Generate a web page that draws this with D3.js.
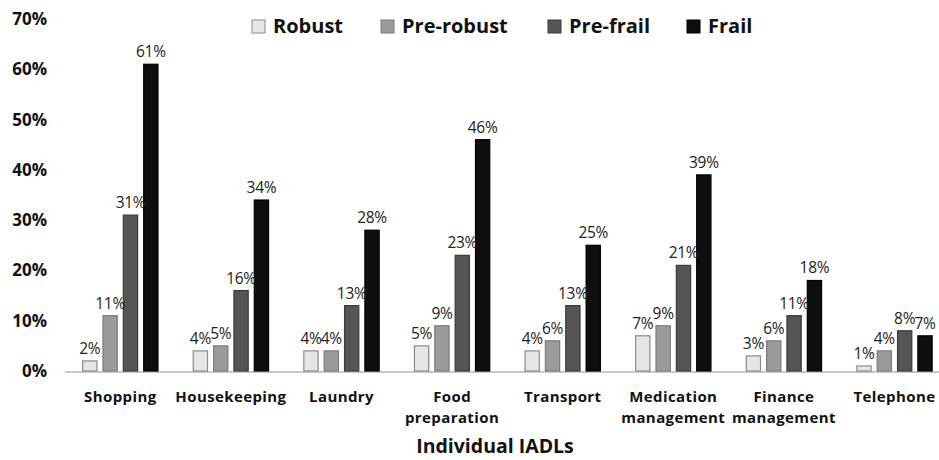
<!DOCTYPE html>
<html>
<head>
<meta charset="utf-8">
<script src="https://cdn.jsdelivr.net/npm/d3@7"></script>
<style>
  body { margin: 0; background: #fff; }
  svg { display: block; font-family: "Open Sans", "Liberation Sans", sans-serif; }
  .tick text { font-weight: bold; }
</style>
</head>
<body>
<svg id="chart" width="939" height="460"></svg>
<script>
const categories = [
  ['Shopping'], ['Housekeeping'], ['Laundry'], ['Food', 'preparation'],
  ['Transport'], ['Medication', 'management'], ['Finance', 'management'], ['Telephone']
];
const seriesNames = ['Robust', 'Pre-robust', 'Pre-frail', 'Frail'];
const robust = [2, 4, 4, 5, 4, 7, 3, 1];
const preRobust = [11, 5, 4, 9, 6, 9, 6, 4];
const preFrail = [31, 16, 13, 23, 13, 21, 11, 8];
const frail = [61, 34, 28, 46, 25, 39, 18, 7];
const yTicks = [0, 10, 20, 30, 40, 50, 60, 70];

const fills = ['#e6e6e6', '#9b9b9b', '#555555', '#0e0e0e'];
const strokes = ['#8a8a8a', '#7a7a7a', '#3a3a3a', '#000000'];

function drawChart(svgElement) {
  const svg = d3.select(svgElement);
  const seriesValues = [robust, preRobust, preFrail, frail];
  const keys = categories.map(c => c.join(' '));

  const x = d3.scaleBand()
    .domain(keys)
    .range([65, 65 + 8 * 110.6])
    .paddingInner(0.31)
    .paddingOuter(0.155);

  const xSub = d3.scaleBand()
    .domain(seriesNames)
    .range([0, x.bandwidth()])
    .paddingInner(0.25);

  const y = d3.scaleLinear().domain([0, 70]).range([371, 19]);

  // y axis labels only
  const yAxis = svg.append('g')
    .attr('transform', 'translate(47,0)')
    .call(d3.axisLeft(y).tickValues(yTicks).tickSize(0).tickPadding(0).tickFormat(d => d + '%'));
  yAxis.select('.domain').remove();
  yAxis.selectAll('text')
    .attr('font-size', 17)
    .attr('font-family', '"Open Sans", sans-serif')
    .attr('fill', '#111');

  // baseline
  svg.append('line')
    .attr('x1', 65).attr('x2', 939)
    .attr('y1', y(0) + 1).attr('y2', y(0) + 1)
    .attr('stroke', '#c8c8c8').attr('stroke-width', 2);

  const rows = keys.map((k, i) => ({ key: k, values: seriesValues.map((s, j) => ({ name: seriesNames[j], idx: j, v: s[i] })) }));

  const groups = svg.append('g').selectAll('g')
    .data(rows)
    .enter()
    .append('g')
    .attr('transform', d => 'translate(' + x(d.key) + ',0)');

  groups.selectAll('rect')
    .data(d => d.values)
    .enter()
    .append('rect')
    .attr('x', d => xSub(d.name) + 0.5)
    .attr('y', d => y(d.v))
    .attr('width', xSub.bandwidth() - 1)
    .attr('height', d => y(0) - y(d.v))
    .attr('fill', d => fills[d.idx])
    .attr('stroke', d => strokes[d.idx])
    .attr('stroke-width', 1.2);

  groups.selectAll('text.val')
    .data(d => d.values)
    .enter()
    .append('text')
    .attr('class', 'val')
    .attr('x', d => xSub(d.name) + xSub.bandwidth() / 2)
    .attr('y', d => y(d.v) - 7)
    .attr('text-anchor', 'middle')
    .attr('font-size', 15.5)
    .attr('letter-spacing', -0.3)
    .attr('fill', '#222')
    .text(d => d.v + '%');

  // category labels
  const catLabels = svg.append('g').selectAll('text')
    .data(categories)
    .enter()
    .append('text')
    .attr('x', (d, i) => x(keys[i]) + x.bandwidth() / 2)
    .attr('y', 402)
    .attr('text-anchor', 'middle')
    .attr('font-size', 15)
    .attr('letter-spacing', 0.4)
    .attr('font-weight', 'bold')
    .attr('fill', '#111');
  catLabels.selectAll('tspan')
    .data(d => d)
    .enter()
    .append('tspan')
    .attr('x', function() { return d3.select(this.parentNode).attr('x'); })
    .attr('dy', (d, i) => i === 0 ? 0 : 21)
    .text(d => d);

  svg.append('text')
    .attr('x', 495)
    .attr('y', 453)
    .attr('text-anchor', 'middle')
    .attr('font-size', 19.5)
    .attr('font-weight', 'bold')
    .attr('fill', '#111')
    .text('Individual IADLs');

  // legend
  const legendX = [252, 381, 548, 687];
  const legend = svg.append('g').selectAll('g')
    .data(seriesNames)
    .enter()
    .append('g')
    .attr('transform', (d, i) => 'translate(' + legendX[i] + ',20)');
  legend.append('rect')
    .attr('width', 13).attr('height', 13)
    .attr('fill', (d, i) => fills[i])
    .attr('stroke', (d, i) => strokes[i])
    .attr('stroke-width', 1);
  legend.append('text')
    .attr('x', 21)
    .attr('y', 13)
    .attr('font-size', 20)
    .attr('font-weight', 'bold')
    .attr('fill', '#111')
    .text(d => d);
}

drawChart(document.querySelector('#chart'));
</script>
</body>
</html>
